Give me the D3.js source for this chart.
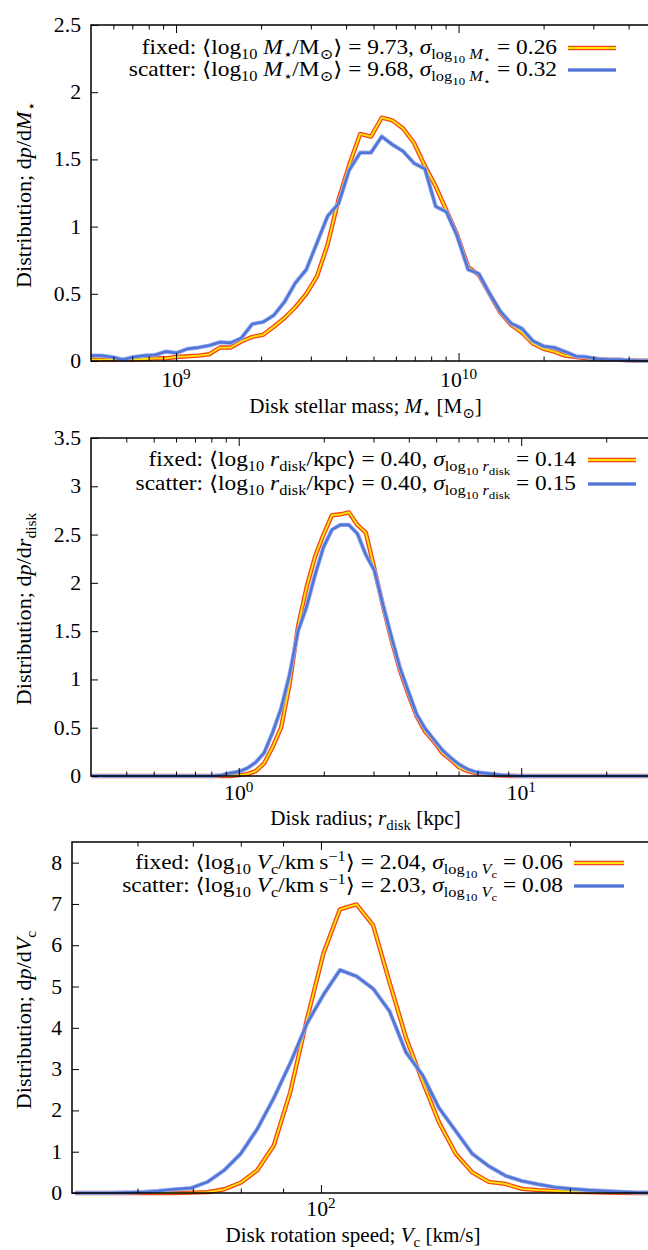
<!DOCTYPE html>
<html>
<head>
<meta charset="utf-8">
<script src="https://cdn.jsdelivr.net/npm/d3@7"></script>
<style>
  body { margin: 0; background: #fff; }
  svg { display: block; }
  text { font-family: "Liberation Serif", "DejaVu Serif", serif; fill: #000; }
  .tick line { stroke: #000; stroke-width: 1; }
</style>
</head>
<body>
<svg id="chart" width="648" height="1250"></svg>
<script>
// ---- panel 1: stellar mass (x = log10 M*/Msun) ----
var massLog = [8.697, 8.735, 8.773, 8.811, 8.849, 8.888, 8.926, 8.964, 9.002,
  9.040, 9.079, 9.117, 9.155, 9.193, 9.231, 9.270, 9.308, 9.346,
  9.384, 9.422, 9.461, 9.499, 9.537, 9.575, 9.613, 9.652, 9.690,
  9.728, 9.766, 9.804, 9.843, 9.881, 9.919, 9.957, 9.995, 10.034,
  10.072, 10.110, 10.148, 10.186, 10.225, 10.263, 10.301, 10.339, 10.377,
  10.416, 10.454, 10.492, 10.530, 10.568, 10.607, 10.645, 10.683, 10.721];
var massFixed = [0.01, 0.01, 0.01, 0.01, 0.01, 0.015, 0.02, 0.02, 0.03,
  0.035, 0.04, 0.05, 0.10, 0.10, 0.145, 0.18, 0.195, 0.255,
  0.32, 0.40, 0.50, 0.63, 0.87, 1.20, 1.46, 1.69, 1.67,
  1.81, 1.79, 1.73, 1.62, 1.45, 1.30, 1.12, 0.94, 0.70,
  0.64, 0.50, 0.36, 0.27, 0.21, 0.13, 0.09, 0.07, 0.04,
  0.03, 0.02, 0.015, 0.01, 0.008, 0.005, 0.003, 0.002, 0.001];
var massScatter = [0.04, 0.04, 0.03, 0.01, 0.03, 0.04, 0.045, 0.07, 0.06,
  0.09, 0.10, 0.115, 0.14, 0.135, 0.17, 0.275, 0.29, 0.34,
  0.44, 0.58, 0.68, 0.88, 1.08, 1.17, 1.42, 1.55, 1.55,
  1.67, 1.61, 1.56, 1.47, 1.43, 1.15, 1.11, 0.93, 0.68,
  0.65, 0.50, 0.37, 0.28, 0.24, 0.15, 0.11, 0.10, 0.07,
  0.035, 0.03, 0.015, 0.01, 0.01, 0.005, 0.002, 0.001, 0.001];

// ---- panel 2: disk radius (x = log10 r/kpc) ----
var radiusLog = [-0.52, -0.12, -0.09, -0.06, -0.03, 0.00, 0.03, 0.06, 0.09, 0.12, 0.15, 0.18, 0.21, 0.24, 0.27,
  0.30, 0.33, 0.36, 0.39, 0.42, 0.45, 0.48, 0.51, 0.54, 0.57, 0.60, 0.63, 0.66, 0.69, 0.72, 0.75,
  0.78, 0.81, 0.84, 0.87, 0.90, 0.93, 0.96, 0.99, 1.48];
var radiusFixed = [0, 0, 0, 0, 0, 0.01, 0.02, 0.05, 0.13, 0.30, 0.50, 0.95, 1.55, 1.95, 2.27,
  2.50, 2.70, 2.71, 2.73, 2.60, 2.52, 2.15, 1.77, 1.42, 1.10, 0.85, 0.62, 0.46, 0.36, 0.24, 0.17,
  0.09, 0.05, 0.03, 0.02, 0.01, 0.005, 0, 0, 0];
var radiusScatter = [0, 0, 0, 0.01, 0.03, 0.045, 0.08, 0.14, 0.24, 0.45, 0.70, 1.05, 1.50, 1.75, 2.08,
  2.37, 2.55, 2.60, 2.60, 2.51, 2.29, 2.13, 1.78, 1.45, 1.13, 0.88, 0.64, 0.49, 0.38, 0.27, 0.19,
  0.12, 0.07, 0.04, 0.03, 0.02, 0.01, 0.005, 0, 0];

// ---- panel 3: rotation speed (x = log10 Vc / km s^-1) ----
var speedLog = [1.703, 1.723, 1.743, 1.763, 1.783, 1.803, 1.823, 1.843, 1.863, 1.883, 1.903, 1.923, 1.943,
  1.963, 1.983, 2.003, 2.023, 2.043, 2.063, 2.083, 2.103, 2.123, 2.143, 2.163, 2.183, 2.203, 2.223, 2.243,
  2.263, 2.283, 2.303, 2.323, 2.343, 2.363, 2.383, 2.403];
var speedFixed = [0, 0, 0, 0, 0, 0, 0, 0.01, 0.02, 0.09, 0.25, 0.55, 1.15,
  2.45, 4.20, 5.80, 6.87, 6.99, 6.49, 5.10, 3.75, 2.70, 1.70, 0.95, 0.50, 0.27, 0.22, 0.10,
  0.07, 0.05, 0.03, 0.02, 0.01, 0.005, 0, 0];
var speedScatter = [0, 0, 0, 0.01, 0.02, 0.05, 0.09, 0.12, 0.27, 0.55, 0.95, 1.55, 2.30,
  3.15, 4.10, 4.80, 5.40, 5.25, 4.95, 4.40, 3.40, 2.85, 2.05, 1.50, 0.95, 0.65, 0.42, 0.29,
  0.21, 0.14, 0.10, 0.07, 0.05, 0.03, 0.01, 0.01];

var svg = d3.select("#chart");
var FS = 20.5;

// text helper: parts are [string, style]; style may hold i (italic), sub, ss (sub-sub), sup
function mathText(sel, parts, size) {
  var shift = 0;
  parts.forEach(function(p) {
    var s = p[1] || "";
    var want = 0, fs = size;
    if (s.indexOf("ss") >= 0) { want = size * 0.45; fs = size * 0.55; }
    else if (s.indexOf("sub") >= 0) { want = size * 0.25; fs = size * 0.7; }
    else if (s.indexOf("sup") >= 0) { want = -size * 0.4; fs = size * 0.7; }
    sel.append("tspan")
      .attr("dy", want - shift)
      .attr("font-size", fs)
      .attr("font-style", s.indexOf("i") >= 0 ? "italic" : null)
      .text(p[0]);
    shift = want;
  });
}

function placeText(g, x, y, anchor, sx, parts) {
  var t = g.append("text")
    .attr("transform", "translate(" + x + "," + y + ") scale(" + sx + ",1)")
    .attr("text-anchor", anchor);
  mathText(t, parts, FS);
  return t;
}

function legendParts(label, q, qsub, unit, mean, sigma) {
  var parts = [[label + ":  \u27e8log"], ["10", "sub"], [" "], [q, "i"]];
  if (qsub) parts.push([qsub, "sub"]);
  parts = parts.concat(unit);
  parts.push(["\u27e9 = " + mean + ", "]);
  parts.push(["\u03c3", "i"], ["log", "sub"], ["10", "ss"], [" ", "sub"], [q, "sub i"]);
  if (qsub) parts.push([qsub, "ss"]);
  parts.push([" = " + sigma]);
  return parts;
}

var panels = [
  {
    top: 25, bottom: 361, left: 91, right: 656,
    xdom: [5e8, 5e10], ymax: 2.5, ystep: 0.5,
    major: [1e9, 1e10], majorExp: ["9", "10"],
    minor: [6e8, 7e8, 8e8, 9e8, 2e9, 3e9, 4e9, 5e9, 6e9, 7e9, 8e9, 9e9, 2e10, 3e10, 4e10],
    xs: massLog, fixed: massFixed, scatter: massScatter,
    tickBase: 387, titleBase: 413, ylabY: 195,
    xtitle: [["Disk stellar mass; "], ["M", "i"], ["\u22c6", "sub"], [" [M"], ["\u2299", "sub"], ["]"]],
    ytitle: [["Distribution; d"], ["p", "i"], ["/d"], ["M", "i"], ["\u22c6", "sub"]],
    legX: 557, legY: [54, 76], legLine: [568, 616],
    leg: [legendParts("fixed", "M", "\u22c6", [["/M"], ["\u2299", "sub"]], "9.73", "0.26"),
          legendParts("scatter", "M", "\u22c6", [["/M"], ["\u2299", "sub"]], "9.68", "0.32")]
  },
  {
    top: 438, bottom: 776, left: 91, right: 656,
    xdom: [0.3, 30], ymax: 3.5, ystep: 0.5,
    major: [1, 10], majorExp: ["0", "1"],
    minor: [0.4, 0.5, 0.6, 0.7, 0.8, 0.9, 2, 3, 4, 5, 6, 7, 8, 9, 20],
    xs: radiusLog, fixed: radiusFixed, scatter: radiusScatter,
    tickBase: 800, titleBase: 825, ylabY: 609,
    xtitle: [["Disk radius; "], ["r", "i"], ["disk", "sub"], [" [kpc]"]],
    ytitle: [["Distribution; d"], ["p", "i"], ["/d"], ["r", "i"], ["disk", "sub"]],
    legX: 576, legY: [466, 490], legLine: [588, 636],
    leg: [legendParts("fixed", "r", "disk", [["/kpc"]], "0.40", "0.14"),
          legendParts("scatter", "r", "disk", [["/kpc"]], "0.40", "0.15")]
  },
  {
    top: 842, bottom: 1193, left: 72, right: 650,
    xdom: [50, 250], ymax: 8.5, ystep: 1,
    major: [100], majorExp: ["2"],
    minor: [60, 70, 80, 90, 200],
    xs: speedLog, fixed: speedFixed, scatter: speedScatter,
    tickBase: 1216, titleBase: 1242, ylabY: 1020,
    xtitle: [["Disk rotation speed; "], ["V", "i"], ["c", "sub"], [" [km/s]"]],
    ytitle: [["Distribution; d"], ["p", "i"], ["/d"], ["V", "i"], ["c", "sub"]],
    legX: 563, legY: [869, 892], legLine: [574, 624],
    leg: [legendParts("fixed", "V", "c", [["/km\u2009s"], ["\u22121", "sup"]], "2.04", "0.06"),
          legendParts("scatter", "V", "c", [["/km\u2009s"], ["\u22121", "sup"]], "2.03", "0.08")]
  }
];

function drawFixed(g, d) {
  g.append("path").attr("d", d).attr("fill", "none")
    .attr("stroke", "#f2461e").attr("stroke-width", 4.4).attr("stroke-linejoin", "round");
  g.append("path").attr("d", d).attr("fill", "none")
    .attr("stroke", "#ffe600").attr("stroke-width", 1.8).attr("stroke-linejoin", "round");
}
function drawScatter(g, d) {
  g.append("path").attr("d", d).attr("fill", "none")
    .attr("stroke", "#9db2ec").attr("stroke-width", 4.2).attr("stroke-linejoin", "round");
  g.append("path").attr("d", d).attr("fill", "none")
    .attr("stroke", "#5176d8").attr("stroke-width", 2.6).attr("stroke-linejoin", "round");
}

panels.forEach(function(p, pi) {
  var x = d3.scaleLog().domain(p.xdom).range([p.left, p.right]);
  var y = d3.scaleLinear().domain([0, p.ymax]).range([p.bottom, p.top]);
  var g = svg.append("g");

  var clipId = "clip" + pi;
  svg.append("clipPath").attr("id", clipId).append("rect")
    .attr("x", p.left).attr("y", p.top - 3).attr("width", p.right - p.left).attr("height", p.bottom - p.top + 6);

  // curves
  var pts = function(vals) { return p.xs.map(function(l, i) { return [Math.pow(10, l), vals[i]]; }); };
  var line = d3.line().x(function(d) { return x(d[0]); }).y(function(d) { return y(d[1]); });
  var cg = g.append("g").attr("clip-path", "url(#" + clipId + ")");
  drawFixed(cg, line(pts(p.fixed)));
  drawScatter(cg, line(pts(p.scatter)));

  // y axis, ticks inward, labels placed by hand
  var yticks = d3.range(0, p.ymax + 1e-9, p.ystep);
  var yAxis = g.append("g").attr("transform", "translate(" + p.left + ",0)")
    .call(d3.axisLeft(y).tickValues(yticks).tickSize(-7).tickFormat(""));
  yAxis.select(".domain").remove();
  yticks.forEach(function(v) {
    placeText(g, p.left - 10, y(v) + 7, "end", 1.06, [[d3.format("~g")(v)]]);
  });

  // x axis bottom: major + minor, inward
  var xb = g.append("g").attr("transform", "translate(0," + p.bottom + ")");
  xb.call(d3.axisBottom(x).tickValues(p.major).tickSize(-8).tickFormat(""));
  xb.select(".domain").remove();
  var xbm = g.append("g").attr("transform", "translate(0," + p.bottom + ")");
  xbm.call(d3.axisBottom(x).tickValues(p.minor).tickSize(-4.5).tickFormat(""));
  xbm.select(".domain").remove();

  // mirrored ticks on top
  var xt = g.append("g").attr("transform", "translate(0," + p.top + ")");
  xt.call(d3.axisTop(x).tickValues(p.major).tickSize(-8).tickFormat(""));
  xt.select(".domain").remove();
  var xtm = g.append("g").attr("transform", "translate(0," + p.top + ")");
  xtm.call(d3.axisTop(x).tickValues(p.minor).tickSize(-4.5).tickFormat(""));
  xtm.select(".domain").remove();

  // major tick labels 10^n
  p.major.forEach(function(v, i) {
    placeText(g, x(v), p.tickBase, "middle", 1.06, [["10"], [p.majorExp[i], "sup"]]);
  });

  // frame
  g.append("rect").attr("x", p.left).attr("y", p.top)
    .attr("width", p.right - p.left).attr("height", p.bottom - p.top)
    .attr("fill", "none").attr("stroke", "#000").attr("stroke-width", 1.5);

  // axis titles
  placeText(g, (p.left + p.right) / 2 - 8, p.titleBase, "middle", 1.03, p.xtitle);
  var yt = g.append("text")
    .attr("transform", "translate(31," + p.ylabY + ") rotate(-90) scale(1.08,1)")
    .attr("text-anchor", "middle");
  mathText(yt, p.ytitle, FS);

  // legend
  var styles = [drawFixed, drawScatter];
  p.leg.forEach(function(parts, i) {
    placeText(g, p.legX, p.legY[i], "end", 1.14, parts);
    var ly = p.legY[i] - 6;
    styles[i](g, "M" + p.legLine[0] + "," + ly + "H" + p.legLine[1]);
  });
});
</script>
</body>
</html>
